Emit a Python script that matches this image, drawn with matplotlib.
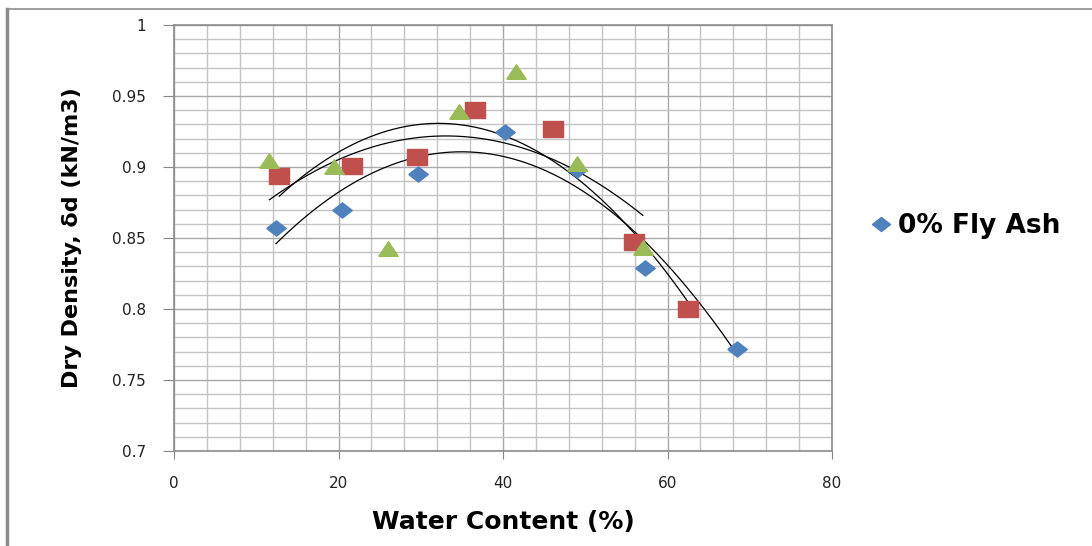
import matplotlib
matplotlib.use("Agg")
import matplotlib.pyplot as plt
import numpy as np
from matplotlib.lines import Line2D

# water content (%) and dry density for each mix
blue_x = [12.4, 20.4, 29.7, 40.2, 49.0, 57.3, 68.4]
blue_y = [0.857, 0.8695, 0.895, 0.925, 0.898, 0.829, 0.772]
red_x = [12.8, 21.6, 29.5, 36.6, 46.1, 55.9, 62.5]
red_y = [0.894, 0.9005, 0.907, 0.940, 0.927, 0.847, 0.800]
green_x = [11.6, 19.4, 26.0, 34.6, 41.6, 49.0, 57.0]
green_y = [0.904, 0.900, 0.842, 0.939, 0.967, 0.902, 0.843]

legend_label = "0% Fly Ash"

diamond = [(-1, 0), (0, 0.78), (1, 0), (0, -0.78), (-1, 0)]
square = [(-1, -0.82), (1, -0.82), (1, 0.82), (-1, 0.82), (-1, -0.82)]
triangle = [(-1, -0.7), (1, -0.7), (0, 0.8), (-1, -0.7)]

fig = plt.figure(figsize=(10.92, 5.46), dpi=100)
ax = fig.add_axes([174 / 1092, 1 - 451 / 546, 658 / 1092, 426 / 546])

# gridlines
for v in np.arange(0, 81, 4):
    ax.axvline(v, color="#A8A8A8" if v % 20 == 0 else "#C4C4C4", lw=1.0, zorder=0)
for v in np.arange(0.70, 1.001, 0.01):
    major = abs(round(v * 100) % 5) == 0
    ax.axhline(v, color="#A8A8A8" if major else "#C4C4C4", lw=1.0, zorder=0)

# trendlines (2nd order polynomial)
for xs, ys in [(blue_x, blue_y), (red_x, red_y), (green_x, green_y)]:
    c = np.polyfit(xs, ys, 2)
    xx = np.linspace(min(xs), max(xs), 200)
    ax.plot(xx, np.polyval(c, xx), color="black", lw=0.9, zorder=2)

ax.plot(blue_x, blue_y, ls="none", marker=diamond, ms=14, color="#4F81BD", mec="#4F81BD", zorder=3)
ax.plot(red_x, red_y, ls="none", marker=square, ms=14, color="#C0504D", mec="#C0504D", zorder=3)
ax.plot(green_x, green_y, ls="none", marker=triangle, ms=14, color="#9BBB59", mec="#9BBB59", zorder=3)

ax.set_xlim(0, 80)
ax.set_ylim(0.7, 1.0)
ax.set_xticks([0, 20, 40, 60, 80])
ax.set_yticks([0.7, 0.75, 0.8, 0.85, 0.9, 0.95, 1.0])
ax.set_yticklabels(["0.7", "0.75", "0.8", "0.85", "0.9", "0.95", "1"])
ax.tick_params(axis="x", direction="out", length=6, color="#868686", pad=12, labelsize=11, labelcolor="#222222")
ax.tick_params(axis="y", direction="out", length=8, color="#868686", pad=12, labelsize=11, labelcolor="#222222")
for s in ax.spines.values():
    s.set_color("#8C8C8C")
    s.set_linewidth(1.2)

ax.set_xlabel("Water Content (%)", fontsize=18, fontweight="bold", labelpad=14)
ax.set_ylabel("Dry Density, δd (kN/m3)", fontsize=16, fontweight="bold", labelpad=22)

handle = Line2D([], [], ls="none", marker=diamond, ms=13, color="#4F81BD")
fig.legend([handle], [legend_label], loc="center left", bbox_to_anchor=(844 / 1092, 1 - 226 / 546),
           frameon=False, prop={"size": 19, "weight": "bold"}, handletextpad=0.15, handlelength=1.0)

# chart border
fig.add_artist(Line2D([7 / 1092, 7 / 1092], [0, 1 - 9 / 546], transform=fig.transFigure, color="#8C8C8C", lw=2.5))
fig.add_artist(Line2D([7 / 1092, 1], [1 - 9 / 546, 1 - 9 / 546], transform=fig.transFigure, color="#8C8C8C", lw=1.2))

fig.savefig("out.png", dpi=100)
